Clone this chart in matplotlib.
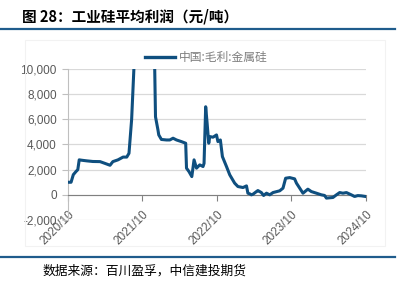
import matplotlib
matplotlib.use("Agg")
import matplotlib.pyplot as plt
from matplotlib.patches import Rectangle
from matplotlib.lines import Line2D
import pandas as pd

plt.rcParams['font.family'] = ['Noto Sans CJK SC', 'DejaVu Sans']

title = "图 28：工业硅平均利润（元/吨）"
source = "数据来源：百川盈孚，中信建投期货"
series_name = "中国:毛利:金属硅"

dates = [
    "2020-10-06", "2020-10-16", "2020-10-27", "2020-11-09", "2020-11-18", "2020-11-25",
    "2020-12-07", "2021-01-01", "2021-01-31", "2021-03-07", "2021-03-31", "2021-04-25",
    "2021-05-09", "2021-06-03", "2021-06-28", "2021-07-16", "2021-07-27", "2021-08-09",
    "2021-08-20", "2021-09-01", "2021-09-25", "2021-10-20", "2021-11-20", "2021-12-04",
    "2021-12-16", "2021-12-20", "2022-01-02", "2022-01-27", "2022-02-12", "2022-02-28",
    "2022-03-17", "2022-04-10", "2022-05-01", "2022-05-05", "2022-05-17", "2022-05-31",
    "2022-06-11", "2022-06-23", "2022-07-09", "2022-07-25", "2022-07-30", "2022-08-07",
    "2022-08-14", "2022-08-22", "2022-08-27", "2022-09-12", "2022-09-29", "2022-10-06",
    "2022-10-18", "2022-10-28", "2022-11-17", "2022-12-03", "2022-12-27", "2023-01-12",
    "2023-02-06", "2023-02-23", "2023-03-02", "2023-03-11", "2023-03-19", "2023-03-27",
    "2023-04-13", "2023-04-20", "2023-05-07", "2023-05-18", "2023-06-01", "2023-06-17",
    "2023-07-03", "2023-08-05", "2023-08-21", "2023-09-03", "2023-09-23", "2023-10-17",
    "2023-10-26", "2023-11-11", "2023-11-27", "2023-12-21", "2024-01-07", "2024-02-01",
    "2024-02-25", "2024-03-12", "2024-03-21", "2024-04-22", "2024-05-09", "2024-05-25",
    "2024-06-10", "2024-06-27", "2024-07-21", "2024-08-06", "2024-08-22", "2024-09-08",
    "2024-09-28",
]
profit = [
    1000, 1000, 1600, 1850, 2000, 2780,
    2750, 2700, 2650, 2640, 2500, 2350,
    2640, 2780, 3000, 3000, 3300, 6000,
    10000, 20000, 35000, 30000, 20000, 6200,
    5160, 4760, 4400, 4360, 4360, 4500,
    4360, 4230, 4100, 2120, 1850, 1450,
    2780, 2120, 2380, 2250, 2500, 7000,
    5700, 4100, 4630, 4580, 4760, 4230,
    4360, 3040, 2250, 1590, 930, 660,
    580, 710, 130, 80, 0, 50,
    260, 340, 180, -50, 130, 0,
    180, 320, 530, 1320, 1370, 1270,
    930, 530, 130, 450, 260, 130,
    0, -50, -260, -210, 0, 180,
    130, 180, 0, -130, -60, -80,
    -130,
]
x_ticks = ["2020-10-01", "2021-10-01", "2022-10-01", "2023-10-01", "2024-10-01"]
x_tick_labels = ["2020/10", "2021/10", "2022/10", "2023/10", "2024/10"]
y_ticks = [-2000, 0, 2000, 4000, 6000, 8000, 10000]
y_tick_labels = ["-2,000", "0", "2,000", "4,000", "6,000", "8,000", "10,000"]

W, H = 399, 288
fig = plt.figure(figsize=(W / 100, H / 100), dpi=100)

# faint chart frame
fig.patches.append(Rectangle((25 / W, (H - 246) / H), 360 / W, 206 / H,
                             transform=fig.transFigure, fill=False,
                             edgecolor='#F2F2F2', linewidth=0.8))

ax = fig.add_axes([68 / W, (H - 220) / H, (366 - 68) / W, (220 - 69) / H])
line_color = '#0F4F7F'
ax.plot(pd.to_datetime(dates), profit, color=line_color, linewidth=2.2,
        solid_joinstyle='round', zorder=3)

ax.set_xlim(pd.Timestamp("2020-10-01"), pd.Timestamp("2024-10-01"))
ax.set_ylim(-2000, 10000)
ax.set_yticks(y_ticks)
ax.set_yticklabels(y_tick_labels)
ax.set_xticks(pd.to_datetime(x_ticks))
ax.set_xticklabels(x_tick_labels)

ax.grid(axis='y', color='#D9D9D9', linewidth=0.9, zorder=0)
ax.set_axisbelow(True)
for s in ['top', 'right']:
    ax.spines[s].set_visible(False)
ax.spines['bottom'].set_position(('data', 0))
ax.spines['bottom'].set_color('#808080')
ax.spines['left'].set_color('#BFBFBF')
ax.tick_params(axis='x', direction='out', length=4, color='#808080', pad=6)
ax.tick_params(axis='y', direction='out', length=4, color='#BFBFBF', pad=4)

for lab in ax.get_yticklabels():
    lab.set_fontfamily(['Liberation Sans'])
    lab.set_fontsize(8.5)
    lab.set_color('#595959')
for lab in ax.get_xticklabels():
    lab.set_fontfamily(['Liberation Sans'])
    lab.set_fontsize(8.5)
    lab.set_color('#595959')
    lab.set_rotation(45)
    lab.set_ha('right')
    lab.set_va('top')
    lab.set_rotation_mode('anchor')

# legend
leg_handle = Line2D([], [], color=line_color, linewidth=2.4)
ax.legend([leg_handle], [series_name], loc='lower left',
          bbox_to_anchor=((140 - 68) / (366 - 68), 1.0), frameon=False,
          handlelength=2.6, handletextpad=0.3, borderaxespad=0.0,
          prop={'family': ['Noto Sans CJK SC', 'DejaVu Sans'], 'size': 8.5},
          labelcolor='#7F7F7F')

# title & rules
fig.text(22 / W, 1 - 16 / H, title, fontsize=10.5, fontweight='bold',
         va='center', ha='left', color='#000000')
rule_color = '#1F5C8C'
fig.add_artist(Line2D([0, 395 / W], [1 - 29 / H, 1 - 29 / H], transform=fig.transFigure,
                      color=rule_color, linewidth=1.6))
fig.add_artist(Line2D([0, 395 / W], [1 - 257 / H, 1 - 257 / H], transform=fig.transFigure,
                      color=rule_color, linewidth=1.6))
fig.text(43 / W, 1 - 271 / H, source, fontsize=9.2, style='italic',
         va='center', ha='left', color='#000000')

fig.savefig("out.png", dpi=100)
